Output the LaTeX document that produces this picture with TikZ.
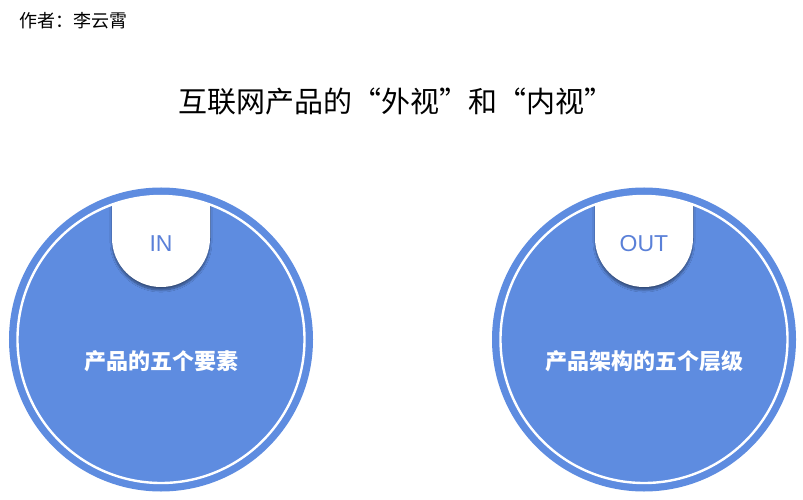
\documentclass[tikz,border=0pt]{standalone}
\usepackage{fontspec}
\setmainfont{Liberation Sans}
\newfontfamily\cjk{Noto Sans CJK SC}
\usetikzlibrary{shadows.blur}
\definecolor{cblue}{HTML}{5E8CE0}
\definecolor{tblue}{HTML}{5A80D8}
\tikzset{
  disc/.style={circle, fill=cblue, minimum size=304bp, inner sep=0pt},
  ring/.style={circle, draw=white, line width=2.4bp, minimum size=287bp, inner sep=0pt},
  tablabel/.style={font=\fontsize{23bp}{26bp}\selectfont, text=tblue},
  disclabel/.style={font=\cjk\bfseries\fontsize{22bp}{26bp}\selectfont, text=white},
  tabshape/.style={fill=white, blur shadow={shadow xshift=0bp, shadow yshift=-3bp, shadow blur steps=10, shadow opacity=45}},
}
\begin{document}
\begin{tikzpicture}[x=1bp,y=-1bp]
\useasboundingbox (0,0) rectangle (803,500);
\fill[white] (0,0) rectangle (803,500);
\node[anchor=west, font=\cjk\fontsize{18bp}{20bp}\selectfont] (author) at (16,21) {作者：李云霄};
\node[font=\cjk\fontsize{29bp}{33bp}\selectfont] (title) at (396,101) {互联网产品的“外视”和“内视”};
% left
\node[disc] (L) at (161,339.5) {};
\begin{scope}
  \clip (161,339.5) circle[radius=143.5];
  \path[tabshape] (112,150) -- (112,238) arc[start angle=180, end angle=0, radius=49] -- (210,150) -- cycle;
\end{scope}
\node[ring] (Lr) at (161,339.5) {};
\node[tablabel] (Lin) at (161,244) {IN};
\node[disclabel] (Lt) at (161,361) {产品的五个要素};
% right
\node[disc] (R) at (644,339.5) {};
\begin{scope}
  \clip (644,339.5) circle[radius=143.5];
  \path[tabshape] (595,150) -- (595,238) arc[start angle=180, end angle=0, radius=49] -- (693,150) -- cycle;
\end{scope}
\node[ring] (Rr) at (644,339.5) {};
\node[tablabel] (Rout) at (644,244) {OUT};
\node[disclabel] (Rt) at (644,361) {产品架构的五个层级};
\end{tikzpicture}
\end{document}
